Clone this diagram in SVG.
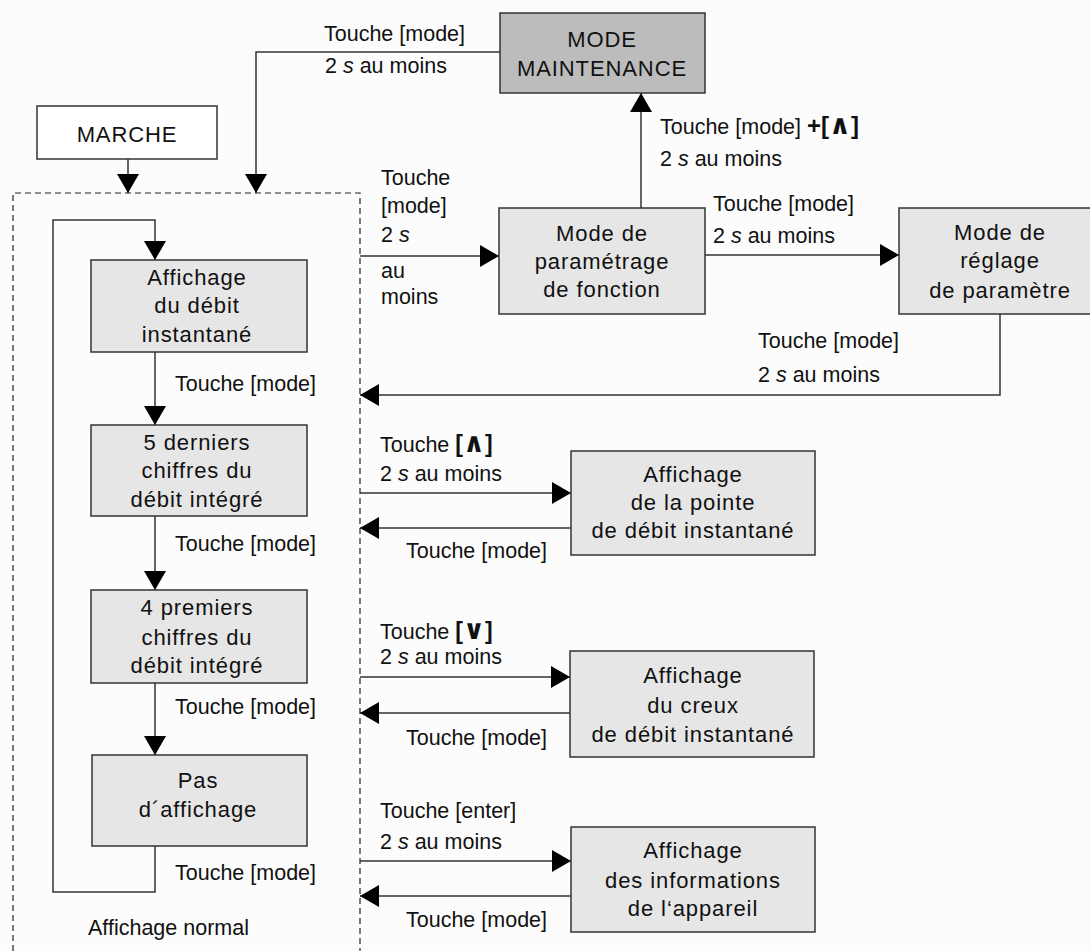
<svg xmlns="http://www.w3.org/2000/svg" width="1090" height="951" viewBox="0 0 1090 951">
<style>
.lbl{font-family:"Liberation Sans","DejaVu Sans",Arial,sans-serif;font-size:21.5px;fill:#111}
.bt{font-family:"Liberation Sans","DejaVu Sans",Arial,sans-serif;font-size:22px;letter-spacing:0.9px;fill:#111;text-anchor:middle}
.box{fill:#e6e6e6;stroke:#333;stroke-width:1.5}
.wbox{fill:#ffffff;stroke:#333;stroke-width:1.5}
.gbox{fill:#bcbcbc;stroke:#333;stroke-width:1.5}
.arr{fill:none;stroke:#333;stroke-width:1.5;marker-end:url(#ah)}
.dash{fill:none;stroke:#222;stroke-width:1.2;stroke-dasharray:6 4}
.b{font-weight:bold}
.sym{font-weight:bold;font-family:"DejaVu Sans",sans-serif;font-size:27px}
.i{font-style:italic}
</style>
<defs>
<marker id="ah" markerUnits="userSpaceOnUse" markerWidth="19" markerHeight="22" viewBox="0 0 19 22" refX="19" refY="11" orient="auto">
<path d="M0,0 L19,11 L0,22 z" fill="#000"/>
</marker>
</defs>
<rect x="0" y="0" width="1090" height="951" fill="#fcfcfc"/>

<g id="cadre-affichage-normal">
<path class="dash" d="M13,951 V193 H360 V951"/>
<text class="lbl" x="88" y="935">Affichage normal</text>
</g>

<g id="connecteurs">
<path class="arr" d="M128,159 V193"/>
<path class="arr" d="M500,52 H256 V193"/>
<path class="arr" d="M360,256 H499"/>
<path class="arr" d="M641,208 V93"/>
<path class="arr" d="M705,255 H899"/>
<path class="arr" d="M1000,314 V395 H360"/>
<path class="arr" d="M155,846 V892 H53 V220 H155 V260"/>
<path class="arr" d="M155,352 V425"/>
<path class="arr" d="M155,516 V590"/>
<path class="arr" d="M155,683 V755"/>
<path class="arr" d="M360,493 H571"/>
<path class="arr" d="M571,528 H360"/>
<path class="arr" d="M360,677 H570"/>
<path class="arr" d="M570,713 H360"/>
<path class="arr" d="M360,861 H571"/>
<path class="arr" d="M571,896 H360"/>
</g>

<g id="etiquettes">
<text class="lbl" x="324" y="41">Touche [mode]</text>
<text class="lbl" x="325" y="73">2 <tspan class="i">s</tspan> au moins</text>
<text class="lbl" x="660" y="134">Touche [mode] <tspan class="b" font-size="24">+[</tspan><tspan class="sym">∧</tspan><tspan class="b" font-size="24">]</tspan></text>
<text class="lbl" x="660" y="166">2 <tspan class="i">s</tspan> au moins</text>
<text class="lbl" x="381" y="185">Touche</text>
<text class="lbl" x="381" y="213">[mode]</text>
<text class="lbl" x="381" y="242">2 <tspan class="i">s</tspan></text>
<text class="lbl" x="381" y="278">au</text>
<text class="lbl" x="381" y="304">moins</text>
<text class="lbl" x="713" y="211">Touche [mode]</text>
<text class="lbl" x="713" y="243">2 <tspan class="i">s</tspan> au moins</text>
<text class="lbl" x="758" y="348">Touche [mode]</text>
<text class="lbl" x="758" y="382">2 <tspan class="i">s</tspan> au moins</text>
<text class="lbl" x="175" y="391">Touche [mode]</text>
<text class="lbl" x="175" y="551">Touche [mode]</text>
<text class="lbl" x="175" y="714">Touche [mode]</text>
<text class="lbl" x="175" y="880">Touche [mode]</text>
<text class="lbl" x="380" y="452">Touche <tspan class="b" font-size="23">[</tspan><tspan class="sym">∧</tspan><tspan class="b" font-size="23">]</tspan></text>
<text class="lbl" x="380" y="481">2 <tspan class="i">s</tspan> au moins</text>
<text class="lbl" x="406" y="558">Touche [mode]</text>
<text class="lbl" x="380" y="639">Touche <tspan class="b" font-size="23">[</tspan><tspan class="sym">∨</tspan><tspan class="b" font-size="23">]</tspan></text>
<text class="lbl" x="380" y="664">2 <tspan class="i">s</tspan> au moins</text>
<text class="lbl" x="406" y="745">Touche [mode]</text>
<text class="lbl" x="380" y="818">Touche [enter]</text>
<text class="lbl" x="380" y="849">2 <tspan class="i">s</tspan> au moins</text>
<text class="lbl" x="406" y="927">Touche [mode]</text>
</g>

<g id="marche">
<rect class="wbox" x="37" y="106" width="180" height="53"/>
<text class="bt" x="127" y="142" letter-spacing="1.2">MARCHE</text>
</g>

<g id="mode-maintenance">
<rect class="gbox" x="500" y="13" width="205" height="80"/>
<text class="bt" x="602" y="47" letter-spacing="1.2">MODE</text>
<text class="bt" x="602" y="76" letter-spacing="1.2">MAINTENANCE</text>
</g>

<g id="mode-parametrage">
<rect class="box" x="499" y="208" width="206" height="106"/>
<text class="bt" x="602" y="241">Mode de</text>
<text class="bt" x="602" y="269">paramétrage</text>
<text class="bt" x="602" y="297">de fonction</text>
</g>

<g id="mode-reglage">
<rect class="box" x="899" y="208" width="202" height="106"/>
<text class="bt" x="1000" y="240">Mode de</text>
<text class="bt" x="1000" y="268">réglage</text>
<text class="bt" x="1000" y="298">de paramètre</text>
</g>

<g id="debit-instantane">
<rect class="box" x="91" y="260" width="216" height="92"/>
<text class="bt" x="197" y="285">Affichage</text>
<text class="bt" x="197" y="313">du débit</text>
<text class="bt" x="197" y="342">instantané</text>
</g>

<g id="cinq-derniers">
<rect class="box" x="91" y="425" width="216" height="91"/>
<text class="bt" x="197" y="450">5 derniers</text>
<text class="bt" x="197" y="478">chiffres du</text>
<text class="bt" x="197" y="507">débit intégré</text>
</g>

<g id="quatre-premiers">
<rect class="box" x="91" y="590" width="216" height="93"/>
<text class="bt" x="197" y="615">4 premiers</text>
<text class="bt" x="197" y="645">chiffres du</text>
<text class="bt" x="197" y="673">débit intégré</text>
</g>

<g id="pas-affichage">
<rect class="box" x="92" y="755" width="215" height="91"/>
<text class="bt" x="198" y="788">Pas</text>
<text class="bt" x="198" y="817">d´affichage</text>
</g>

<g id="pointe">
<rect class="box" x="571" y="451" width="244" height="104"/>
<text class="bt" x="693" y="482">Affichage</text>
<text class="bt" x="693" y="510">de la pointe</text>
<text class="bt" x="693" y="538">de débit instantané</text>
</g>

<g id="creux">
<rect class="box" x="570" y="651" width="244" height="106"/>
<text class="bt" x="693" y="683">Affichage</text>
<text class="bt" x="693" y="713">du creux</text>
<text class="bt" x="693" y="742">de débit instantané</text>
</g>

<g id="informations">
<rect class="box" x="571" y="827" width="244" height="105"/>
<text class="bt" x="693" y="858">Affichage</text>
<text class="bt" x="693" y="888">des informations</text>
<text class="bt" x="693" y="916">de l‘appareil</text>
</g>
</svg>
